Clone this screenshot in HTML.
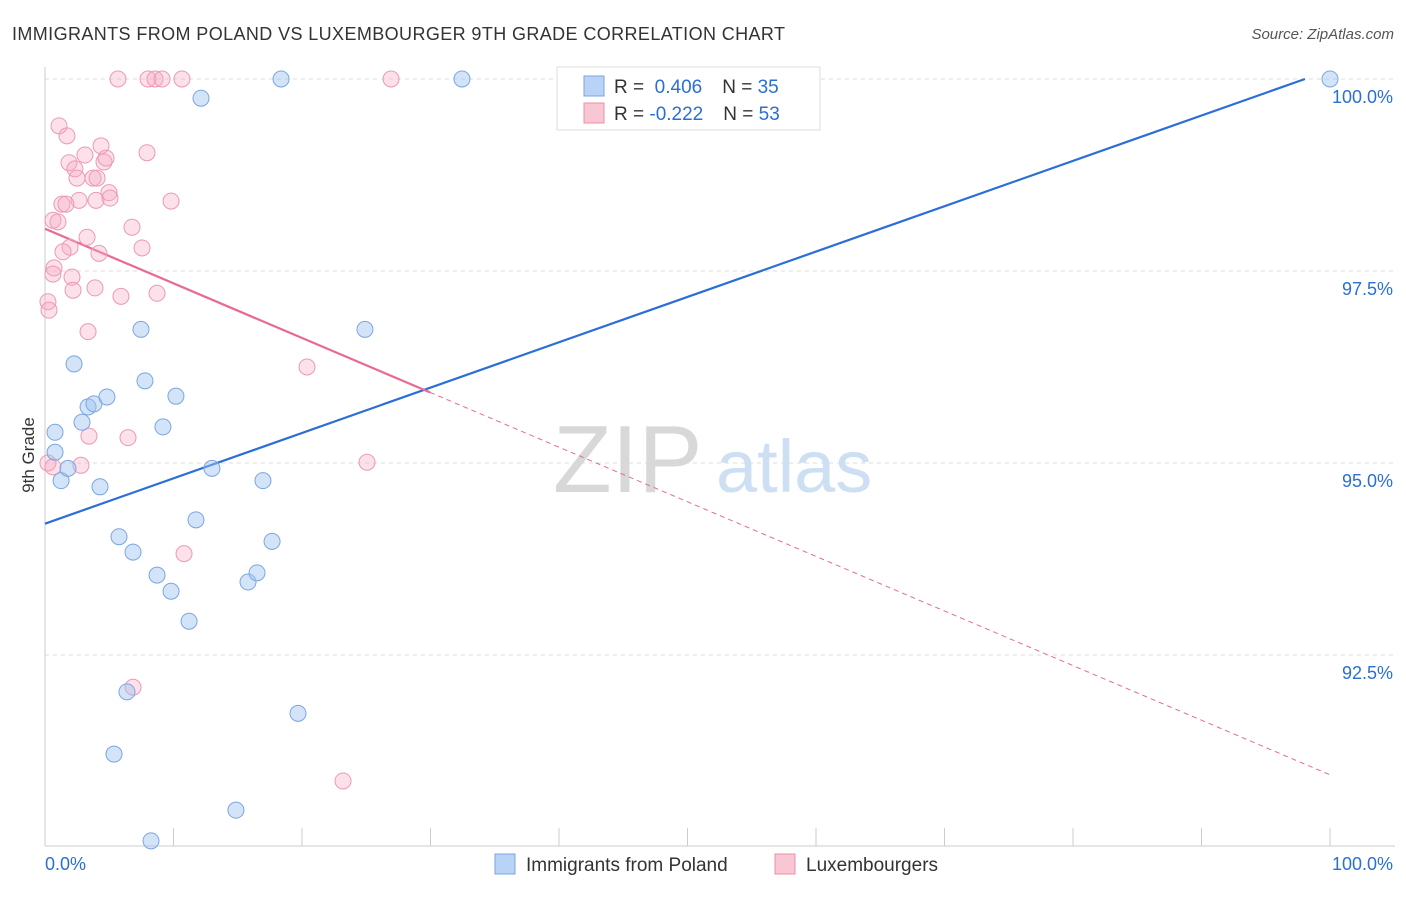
<!DOCTYPE html>
<html><head><meta charset="utf-8">
<style>
body{margin:0;background:#fff;font-family:"Liberation Sans",sans-serif;}
svg text{font-family:"Liberation Sans",sans-serif;}
</style></head>
<body>
<svg id="chart" width="1406" height="892">
<text x="12" y="40" font-size="18" fill="#333" textLength="773" lengthAdjust="spacing">IMMIGRANTS FROM POLAND VS LUXEMBOURGER 9TH GRADE CORRELATION CHART</text>
<text x="1394" y="39" font-size="15" fill="#555" font-style="italic" text-anchor="end">Source: ZipAtlas.com</text>
<g id="grid"></g>
<g>
<text x="553" y="492" font-size="96" fill="#d8d8d8" font-family="Liberation Serif,serif">ZIP</text>
<text x="716" y="492" font-size="74" fill="#cddff3">atlas</text>
</g>
<text transform="translate(34,455) rotate(-90)" font-size="17" fill="#333" text-anchor="middle">9th Grade</text>
<g id="axes"></g>
<g id="lines"></g>
<g id="points"></g>
<g>
<rect x="557" y="67" width="263" height="63" fill="#fff" stroke="#ddd"/>
<rect x="584" y="76" width="20" height="20" fill="#b8d3f5" stroke="#7aa6e0"/>
<rect x="584" y="103" width="20" height="20" fill="#f9c6d4" stroke="#e890aa"/>
<text x="614" y="93" font-size="19" fill="#333">R = <tspan fill="#2a6fd6">&#160;0.406</tspan><tspan dx="20">N = </tspan><tspan fill="#2a6fd6">35</tspan></text>
<text x="614" y="120" font-size="19" fill="#333">R = <tspan fill="#2a6fd6">-0.222</tspan><tspan dx="20">N = </tspan><tspan fill="#2a6fd6">53</tspan></text>
</g>
<g>
<rect x="495" y="854" width="20" height="20" fill="#b8d3f5" stroke="#7aa6e0"/>
<text x="526" y="871" font-size="19" fill="#333">Immigrants from Poland</text>
<text x="806" y="871" font-size="19" fill="#333">Luxembourgers</text>
<rect x="775" y="854" width="20" height="20" fill="#f9c6d4" stroke="#e890aa"/>
</g>
</svg>
<script>
const yTicks=[100,97.5,95,92.5];
const yTickLabels=["100.0%","97.5%","95.0%","92.5%"];
const xTickLabels=["0.0%","100.0%"];
const polandX=[0.78,0.78,1.25,1.79,2.26,2.88,3.35,3.81,4.28,4.82,5.76,6.38,6.85,5.37,7.47,7.78,8.25,8.72,9.18,9.81,10.19,11.21,11.75,12.14,12.99,14.86,15.80,16.50,16.96,17.67,18.37,19.69,24.90,32.45,100];
const polandY=[95.40,95.14,94.77,94.93,96.29,95.53,95.73,95.77,94.69,95.86,94.04,92.02,93.84,91.21,96.74,96.07,90.08,93.54,95.47,93.33,95.87,92.94,94.26,99.75,94.93,90.48,93.45,93.57,94.77,93.98,100,91.74,96.74,100,100];
const luxX=[5.68,8.02,8.56,9.11,10.66,26.93,1.09,1.71,1.87,2.33,2.49,3.11,3.74,4.05,4.36,4.59,4.75,4.98,5.06,3.97,2.65,1.32,1.63,0.62,1.01,3.27,1.95,1.40,4.20,6.77,7.55,7.94,9.81,0.70,0.62,2.10,3.89,2.18,5.91,8.72,0.23,0.31,3.35,20.39,3.42,6.46,2.80,0.23,0.62,25.06,10.82,6.85,23.19];
const luxY=[100,100,100,100,100,100,99.39,99.26,98.91,98.83,98.71,99.01,98.71,98.71,99.13,98.92,98.97,98.52,98.45,98.42,98.42,98.37,98.37,98.16,98.14,97.94,97.81,97.75,97.73,98.07,97.80,99.04,98.41,97.54,97.46,97.42,97.28,97.25,97.17,97.21,97.10,96.99,96.71,96.25,95.35,95.33,94.97,95.00,94.95,95.01,93.82,92.08,90.86];
const polandTrend=[94.21,100.115];
const luxTrend=[98.05,90.94];
const luxSolidEnd=29.96;

const NS="http://www.w3.org/2000/svg";
const X0=45,X1=1330,YTOP=79,PX_PER=76.8;
const xs=v=>X0+(X1-X0)*v/100;
const ys=v=>YTOP+(100-v)*PX_PER;
function mk(tag,attrs,parent){const e=document.createElementNS(NS,tag);for(const k in attrs)e.setAttribute(k,attrs[k]);parent.appendChild(e);return e;}
const grid=document.getElementById('grid'),axes=document.getElementById('axes');
yTicks.forEach((t,i)=>{
 const l=mk('line',{x1:X0,x2:1395,y1:ys(t),y2:ys(t),stroke:'#ddd','stroke-dasharray':'4,4'},grid);
 
 
 const tx=mk('text',{x:1393,y:ys(t)+24,'font-size':18,fill:'#2a6fd6','text-anchor':'end'},axes);
 tx.textContent=yTickLabels[i];
 
 
});
const ax=mk('line',{x1:X0,x2:X0,y1:67,y2:846,stroke:'#ccc'},axes);


const bx=mk('line',{x1:X0,x2:1395,y1:846,y2:846,stroke:'#ccc'},axes);


for(let i=0;i<=10;i++){
 const t=mk('line',{x1:xs(i*10),x2:xs(i*10),y1:828,y2:846,stroke:'#ccc'},axes);
 
 
}
[[0,'start',45],[100,'end',1393]].forEach((d,i)=>{
 const t=mk('text',{x:d[2],y:870,'font-size':18,fill:'#2a6fd6','text-anchor':d[1]},axes);
 t.textContent=xTickLabels[i];
 
 
});
const pts=document.getElementById('points');
luxX.forEach((x,i)=>{
 const c=mk('circle',{cx:xs(x),cy:ys(luxY[i]),r:8,fill:'rgba(245,170,195,0.35)',stroke:'#eb9ab4','stroke-width':1},pts);
 
 
});
polandX.forEach((x,i)=>{
 const c=mk('circle',{cx:xs(x),cy:ys(polandY[i]),r:8,fill:'rgba(160,195,240,0.45)',stroke:'#7aa6e0','stroke-width':1},pts);
 
 
});
const lines=document.getElementById('lines');
const bEnd=(100-polandTrend[0])/(polandTrend[1]-polandTrend[0])*100;
const bl=mk('line',{x1:xs(0),y1:ys(polandTrend[0]),x2:xs(Math.min(100,bEnd)),y2:ys(Math.min(100,polandTrend[0]+(polandTrend[1]-polandTrend[0])*Math.min(100,bEnd)/100)),stroke:'#2a6fd6','stroke-width':2.2},lines);


const lv=x=>luxTrend[0]+(luxTrend[1]-luxTrend[0])*x/100;
const pl=mk('line',{x1:xs(0),y1:ys(lv(0)),x2:xs(luxSolidEnd),y2:ys(lv(luxSolidEnd)),stroke:'#e86a92','stroke-width':2.2},lines);


const pd=mk('line',{x1:xs(luxSolidEnd),y1:ys(lv(luxSolidEnd)),x2:xs(100),y2:ys(lv(100)),stroke:'#e86a92','stroke-width':1,'stroke-dasharray':'5,4'},lines);


</script>
</body></html>
